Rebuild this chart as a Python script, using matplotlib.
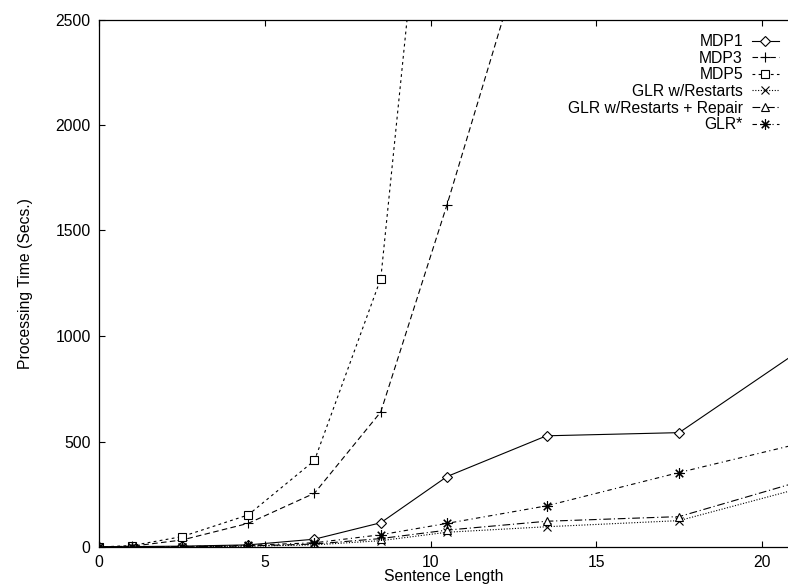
import matplotlib
matplotlib.use("Agg")
import matplotlib.pyplot as plt

plt.rcParams["font.family"] = ["Liberation Sans", "DejaVu Sans"]
plt.rcParams["font.size"] = 11.3

# sentence length bins
x_all = [0, 1, 2.5, 4.5, 6.5, 8.5, 10.5, 13.5, 17.5, 21.5]

# processing time (secs)
mdp1 = [0, 2, 4, 10, 37, 115, 334, 527, 542, 970]
mdp3 = [0, 4, 33, 112, 255, 640, 1623, 3190]
mdp5 = [0, 7, 49, 152, 410, 1272, 4370]
glr_restarts = [0, 0.5, 1, 4, 10, 30, 70, 96, 125, 293]
glr_repair = [0, 0.5, 1, 5, 14, 40, 80, 122, 144, 327]
glr_star = [0, 1, 2, 8, 20, 58, 112, 195, 353, 504]

labels = ["MDP1", "MDP3", "MDP5", "GLR w/Restarts",
          "GLR w/Restarts + Repair", "GLR*"]

fig = plt.figure(figsize=(7.88, 5.86), dpi=100)
ax = fig.add_axes([99 / 788, 39 / 586, 689 / 788, 527.5 / 586])

lw = 0.8
ms = 6
ax.plot(x_all[:len(mdp1)], mdp1, color="black", lw=lw, linestyle="-",
        marker="D", ms=ms - 1, mfc="white", mew=0.8, label=labels[0])
ax.plot(x_all[:len(mdp3)], mdp3, color="black", lw=lw, linestyle=(0, (5, 3)),
        marker="+", ms=ms + 1.5, mew=0.8, label=labels[1])
ax.plot(x_all[:len(mdp5)], mdp5, color="black", lw=lw, linestyle=(0, (2.5, 3)),
        marker="s", ms=ms, mfc="white", mew=0.8, label=labels[2])
ax.plot(x_all[:len(glr_restarts)], glr_restarts, color="black", lw=lw,
        linestyle=(0, (1, 1.5)), marker="x", ms=ms, mew=0.8, label=labels[3])
ax.plot(x_all[:len(glr_repair)], glr_repair, color="black", lw=lw,
        linestyle=(0, (7, 2.5, 1, 2.5)), marker="^", ms=ms, mfc="white",
        mew=0.8, label=labels[4])
ax.plot(x_all[:len(glr_star)], glr_star, color="black", lw=lw,
        linestyle=(0, (4, 3, 1, 3)), marker=(8, 2, 0), ms=ms + 1.5, mew=0.8,
        label=labels[5])

ax.set_xlim(0, 689 / 33.15)
ax.set_ylim(0, 2500)
ax.set_xticks([0, 5, 10, 15, 20])
ax.set_yticks([0, 500, 1000, 1500, 2000, 2500])
ax.tick_params(direction="in", length=4.5, width=0.8, top=True, pad=6)
ax.spines["right"].set_visible(False)
for s in ["left", "top", "bottom"]:
    ax.spines[s].set_linewidth(0.9)

ax.set_xlabel("Sentence Length", labelpad=-1)
ax.set_ylabel("Processing Time (Secs.)", labelpad=16)

ax.legend(loc="upper right", bbox_to_anchor=(0.987, 0.972), frameon=False,
          markerfirst=False, borderpad=0, borderaxespad=0, labelspacing=0.1,
          handlelength=1.75, handletextpad=0.55)

fig.savefig("out.png", dpi=100)
